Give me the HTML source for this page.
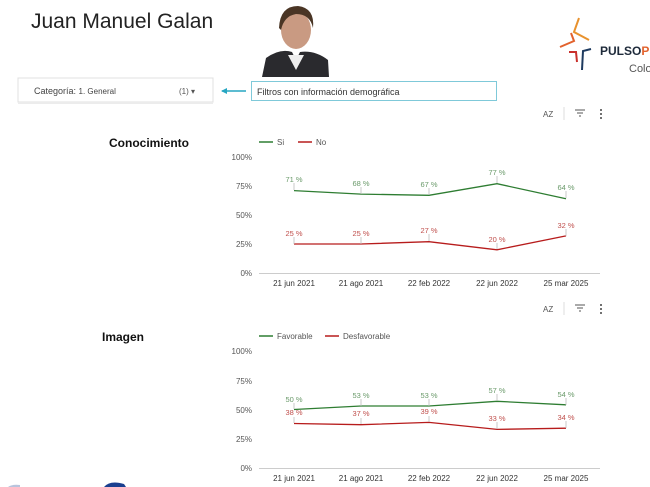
<!DOCTYPE html>
<html><head><meta charset="utf-8"><style>
html,body{margin:0;padding:0;background:#fff;width:650px;height:487px;overflow:hidden}
svg{display:block;font-family:"Liberation Sans",sans-serif}
</style></head><body>
<svg width="650" height="487" viewBox="0 0 650 487" xmlns="http://www.w3.org/2000/svg">
<text x="31" y="28" font-size="21" fill="#222">Juan Manuel Galan</text>
<!-- photo -->
<rect x="261" y="2" width="68" height="75" fill="#fff"/>
<path d="M262 77 L266 58 Q280 48 292 52 L296 60 L300 52 Q315 50 328 60 L329 77 Z" fill="#2a2a2e"/>
<path d="M288 55 L296 70 L304 55 Z" fill="#eee"/>
<ellipse cx="296" cy="30" rx="15" ry="19" fill="#c99a82"/>
<path d="M279 28 Q280 6 298 6 Q315 8 313 28 Q310 14 296 14 Q284 16 281 30 Z" fill="#4a3525"/>
<!-- logo -->
<g stroke-width="2" fill="none">
<path d="M579 18 L574 32 L589 40" stroke="#e8922e"/>
<path d="M571 33 L574 41 L560 47" stroke="#e2622d"/>
<path d="M569 52 L576 52 L577 62" stroke="#c9302c"/>
<path d="M591 49 L583 51 L582 70" stroke="#1e3a5f"/>
</g>
<text x="600" y="55" font-size="12" font-weight="bold" fill="#1e2a3a">PULSO<tspan fill="#e2622d">P</tspan></text>
<text x="629" y="72" font-size="11" fill="#555">Colo</text>
<!-- filter -->
<rect x="18" y="78" width="195" height="24" fill="#fff" stroke="#e0e0e0"/>
<rect x="18" y="102" width="195" height="2" fill="#ececec"/>
<text x="34" y="94" font-size="9" fill="#444">Categoría: <tspan font-size="8">1. General</tspan></text>
<text x="179" y="94" font-size="8" fill="#555">(1) ▾</text>
<line x1="222" y1="91" x2="246" y2="91" stroke="#26a6c2" stroke-width="1.5"/>
<path d="M221 91 L227 88 L227 94 Z" fill="#26a6c2"/>
<rect x="251.5" y="81.5" width="245" height="19" fill="#fff" stroke="#7fc9d9"/>
<text x="257" y="95" font-size="9" fill="#333">Filtros con información demográfica</text>
<!-- toolbar icons -->
<g font-size="8" fill="#555">
<text x="543" y="117">AZ</text><text x="543" y="312">AZ</text>
</g>
<line x1="564" y1="107" x2="564" y2="120" stroke="#ddd"/>
<line x1="564" y1="302" x2="564" y2="315" stroke="#ddd"/>
<g stroke="#555" stroke-width="1">
<path d="M575 110h10M577 113h6M579 116h2"/><path d="M575 305h10M577 308h6M579 311h2"/>
</g>
<g fill="#444"><circle cx="601" cy="110" r="1"/><circle cx="601" cy="114" r="1"/><circle cx="601" cy="118" r="1"/>
<circle cx="601" cy="305" r="1"/><circle cx="601" cy="309" r="1"/><circle cx="601" cy="313" r="1"/></g>

<!-- Chart 1 -->
<text x="109" y="147" font-size="12" font-weight="bold" fill="#111">Conocimiento</text>
<line x1="259" y1="142" x2="273" y2="142" stroke="#2e7d32" stroke-width="1.5"/>
<text x="277" y="145" font-size="8" fill="#555">Si</text>
<line x1="298" y1="142" x2="312" y2="142" stroke="#b71c1c" stroke-width="1.5"/>
<text x="316" y="145" font-size="8" fill="#555">No</text>
<g font-size="8" fill="#555" text-anchor="end">
<text x="252" y="160">100%</text><text x="252" y="189">75%</text><text x="252" y="218">50%</text><text x="252" y="247">25%</text><text x="252" y="276">0%</text>
</g>
<line x1="259" y1="273.5" x2="600" y2="273.5" stroke="#ccc"/>
<g font-size="8" fill="#333" text-anchor="middle">
<text x="294" y="286">21 jun 2021</text><text x="361" y="286">21 ago 2021</text><text x="429" y="286">22 feb 2022</text><text x="497" y="286">22 jun 2022</text><text x="566" y="286">25 mar 2025</text>
</g>
<polyline points="294,190.6 361,194.1 429,195.3 497,183.7 566,198.8" fill="none" stroke="#2e7d32" stroke-width="1.3"/>
<polyline points="294,244 361,244 429,241.7 497,249.8 566,235.9" fill="none" stroke="#b71c1c" stroke-width="1.3"/>
<g stroke="#bbb" stroke-width="0.8">
<line x1="294" y1="183" x2="294" y2="190"/><line x1="361" y1="187" x2="361" y2="194"/><line x1="429" y1="188" x2="429" y2="195"/><line x1="497" y1="176" x2="497" y2="183"/><line x1="566" y1="191" x2="566" y2="198"/>
<line x1="294" y1="237" x2="294" y2="244"/><line x1="361" y1="237" x2="361" y2="244"/><line x1="429" y1="234" x2="429" y2="241"/><line x1="497" y1="243" x2="497" y2="249"/><line x1="566" y1="229" x2="566" y2="236"/>
</g>
<g font-size="7.5" fill="#6a9a6a" text-anchor="middle">
<text x="294" y="182">71 %</text><text x="361" y="186">68 %</text><text x="429" y="187">67 %</text><text x="497" y="175">77 %</text><text x="566" y="190">64 %</text>
</g>
<g font-size="7.5" fill="#c0504d" text-anchor="middle">
<text x="294" y="236">25 %</text><text x="361" y="236">25 %</text><text x="429" y="233">27 %</text><text x="497" y="242">20 %</text><text x="566" y="228">32 %</text>
</g>

<!-- Chart 2 -->
<text x="102" y="341" font-size="12" font-weight="bold" fill="#111">Imagen</text>
<line x1="259" y1="336" x2="273" y2="336" stroke="#2e7d32" stroke-width="1.5"/>
<text x="277" y="339" font-size="8" fill="#555">Favorable</text>
<line x1="325" y1="336" x2="339" y2="336" stroke="#b71c1c" stroke-width="1.5"/>
<text x="343" y="339" font-size="8" fill="#555">Desfavorable</text>
<g font-size="8" fill="#555" text-anchor="end">
<text x="252" y="354">100%</text><text x="252" y="384">75%</text><text x="252" y="413">50%</text><text x="252" y="442">25%</text><text x="252" y="471">0%</text>
</g>
<line x1="259" y1="468.5" x2="600" y2="468.5" stroke="#ccc"/>
<g font-size="8" fill="#333" text-anchor="middle">
<text x="294" y="481">21 jun 2021</text><text x="361" y="481">21 ago 2021</text><text x="429" y="481">22 feb 2022</text><text x="497" y="481">22 jun 2022</text><text x="566" y="481">25 mar 2025</text>
</g>
<polyline points="294,409.5 361,406 429,406 497,401.3 566,404.8" fill="none" stroke="#2e7d32" stroke-width="1.3"/>
<polyline points="294,423.5 361,424.7 429,422.4 497,429.4 566,428.2" fill="none" stroke="#b71c1c" stroke-width="1.3"/>
<g stroke="#bbb" stroke-width="0.8">
<line x1="294" y1="403" x2="294" y2="409"/><line x1="361" y1="399" x2="361" y2="406"/><line x1="429" y1="399" x2="429" y2="406"/><line x1="497" y1="394" x2="497" y2="401"/><line x1="566" y1="398" x2="566" y2="405"/>
<line x1="294" y1="417" x2="294" y2="423"/><line x1="361" y1="418" x2="361" y2="424"/><line x1="429" y1="416" x2="429" y2="422"/><line x1="497" y1="422" x2="497" y2="429"/><line x1="566" y1="421" x2="566" y2="428"/>
</g>
<g font-size="7.5" fill="#6a9a6a" text-anchor="middle">
<text x="294" y="402">50 %</text><text x="361" y="398">53 %</text><text x="429" y="398">53 %</text><text x="497" y="393">57 %</text><text x="566" y="397">54 %</text>
</g>
<g font-size="7.5" fill="#c0504d" text-anchor="middle">
<text x="294" y="415">38 %</text><text x="361" y="416">37 %</text><text x="429" y="414">39 %</text><text x="497" y="421">33 %</text><text x="566" y="420">34 %</text>
</g>
<!-- bottom-left partial logo -->
<path d="M104 487 Q110 480 124 484 L126 487 Z" fill="#1a3f8f"/>
<path d="M8 487 Q12 484 20 485 L20 487 Z" fill="#b8c4dd"/>
</svg>
</body></html>
